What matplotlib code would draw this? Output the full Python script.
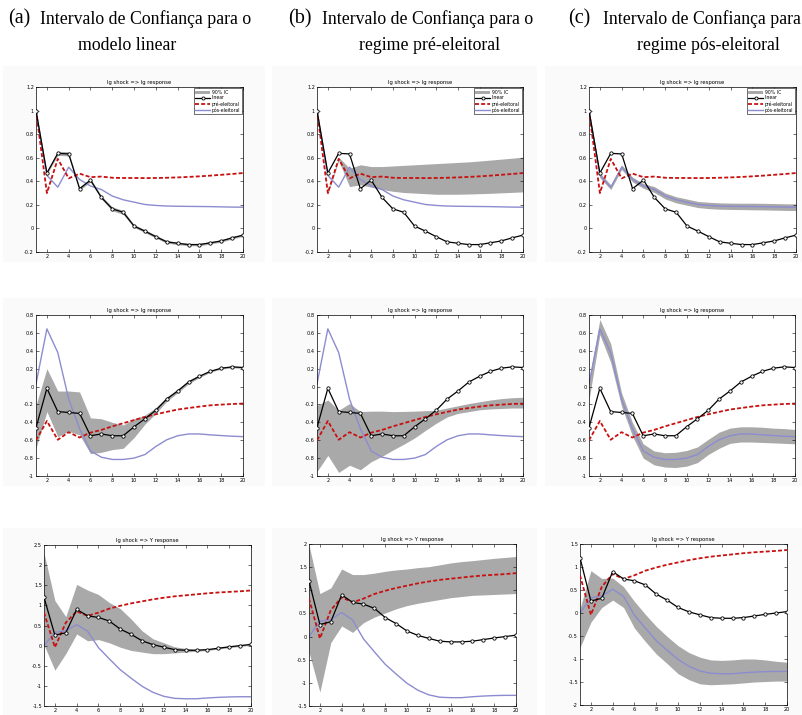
import matplotlib
matplotlib.use("Agg")
import matplotlib.pyplot as plt
from matplotlib.patches import Rectangle, Patch
from matplotlib.lines import Line2D

# ---------------- data ----------------
h = list(range(1, 21))

# Row 1: lg shock => lg response
r1_lin = [1.0, 0.47, 0.637, 0.632, 0.337, 0.41, 0.263, 0.166, 0.137, 0.02, -0.023, -0.07, -0.114, -0.126, -0.137, -0.137, -0.122, -0.106, -0.08, -0.057]
r1_pre = [1.0, 0.30, 0.59, 0.425, 0.465, 0.435, 0.44, 0.43, 0.428, 0.428, 0.427, 0.428, 0.43, 0.433, 0.437, 0.442, 0.448, 0.455, 0.462, 0.47]
r1_pos = [1.0, 0.45, 0.35, 0.52, 0.415, 0.36, 0.33, 0.275, 0.243, 0.223, 0.203, 0.195, 0.19, 0.188, 0.187, 0.186, 0.185, 0.183, 0.181, 0.18]
r1a_lo = [1.0, 0.46, 0.62, 0.615, 0.325, 0.395, 0.25, 0.15, 0.12, 0.008, -0.035, -0.082, -0.125, -0.137, -0.147, -0.147, -0.132, -0.116, -0.09, -0.067]
r1a_hi = [1.0, 0.48, 0.655, 0.65, 0.35, 0.425, 0.278, 0.182, 0.154, 0.032, -0.011, -0.058, -0.103, -0.115, -0.127, -0.127, -0.112, -0.096, -0.07, -0.047]
r1b_lo = [1.0, 0.29, 0.575, 0.355, 0.37, 0.35, 0.33, 0.315, 0.305, 0.30, 0.295, 0.29, 0.29, 0.29, 0.292, 0.295, 0.298, 0.302, 0.306, 0.31]
r1b_hi = [1.0, 0.31, 0.605, 0.51, 0.54, 0.525, 0.525, 0.53, 0.535, 0.54, 0.545, 0.55, 0.555, 0.56, 0.565, 0.572, 0.58, 0.588, 0.596, 0.605]
r1c_lo = [1.0, 0.43, 0.33, 0.50, 0.395, 0.34, 0.305, 0.25, 0.217, 0.197, 0.177, 0.168, 0.163, 0.161, 0.160, 0.158, 0.157, 0.155, 0.153, 0.152]
r1c_hi = [1.0, 0.47, 0.37, 0.54, 0.435, 0.38, 0.355, 0.30, 0.269, 0.249, 0.229, 0.222, 0.217, 0.215, 0.214, 0.214, 0.213, 0.211, 0.209, 0.208]

# Row 2: lg shock => lg response
r2_lin = [-0.46, -0.02, -0.28, -0.29, -0.30, -0.55, -0.53, -0.55, -0.55, -0.45, -0.36, -0.265, -0.14, -0.05, 0.05, 0.115, 0.17, 0.205, 0.22, 0.213]
r2_pre = [-0.60, -0.385, -0.595, -0.51, -0.57, -0.515, -0.485, -0.445, -0.41, -0.375, -0.34, -0.31, -0.283, -0.257, -0.24, -0.224, -0.21, -0.202, -0.195, -0.19]
r2_pos = [0.03, 0.645, 0.38, -0.14, -0.47, -0.72, -0.79, -0.815, -0.815, -0.80, -0.76, -0.67, -0.595, -0.55, -0.53, -0.53, -0.54, -0.548, -0.555, -0.56]
r2a_lo = [-0.69, -0.28, -0.56, -0.5, -0.54, -0.75, -0.735, -0.705, -0.69, -0.57, -0.42, -0.30, -0.165, -0.07, 0.03, 0.1, 0.16, 0.195, 0.21, 0.203]
r2a_hi = [-0.21, 0.2, -0.05, -0.05, -0.06, -0.35, -0.36, -0.40, -0.43, -0.36, -0.32, -0.235, -0.115, -0.03, 0.07, 0.13, 0.18, 0.215, 0.23, 0.223]
r2b_lo = [-0.95, -0.77, -0.96, -0.88, -0.93, -0.84, -0.78, -0.71, -0.645, -0.575, -0.49, -0.41, -0.34, -0.30, -0.28, -0.26, -0.25, -0.245, -0.24, -0.24]
r2b_hi = [-0.21, -0.15, -0.265, -0.19, -0.28, -0.275, -0.275, -0.28, -0.278, -0.275, -0.27, -0.265, -0.24, -0.215, -0.19, -0.17, -0.15, -0.135, -0.125, -0.12]
r2c_lo = [-0.15, 0.58, 0.27, -0.22, -0.55, -0.8, -0.875, -0.9, -0.905, -0.89, -0.85, -0.76, -0.69, -0.635, -0.62, -0.62, -0.625, -0.63, -0.635, -0.64]
r2c_hi = [0.07, 0.75, 0.48, -0.07, -0.4, -0.64, -0.72, -0.74, -0.735, -0.715, -0.675, -0.59, -0.51, -0.465, -0.45, -0.45, -0.455, -0.465, -0.47, -0.48]

# Row 3: lg shock => Y response
r3_lin = [1.2, 0.26, 0.32, 0.9, 0.74, 0.7, 0.61, 0.41, 0.28, 0.12, 0.025, -0.04, -0.1, -0.115, -0.115, -0.1, -0.065, -0.03, 0.0, 0.03]
r3_pre = [0.82, -0.04, 0.57, 0.85, 0.74, 0.82, 0.92, 0.99, 1.05, 1.1, 1.15, 1.19, 1.225, 1.25, 1.275, 1.3, 1.32, 1.335, 1.35, 1.37]
r3_pos = [0.0, 0.33, 0.37, 0.52, 0.36, -0.05, -0.33, -0.6, -0.81, -1.01, -1.16, -1.26, -1.31, -1.32, -1.32, -1.30, -1.285, -1.275, -1.27, -1.27]
r3a_lo = [0.02, -0.61, -0.2, 0.29, 0.12, 0.15, 0.07, -0.04, -0.12, -0.16, -0.2, -0.2, -0.18, -0.16, -0.14, -0.12, -0.085, -0.05, -0.02, 0.01]
r3a_hi = [2.3, 1.12, 0.72, 1.52, 1.38, 1.27, 1.07, 0.92, 0.66, 0.37, 0.17, 0.07, -0.03, -0.07, -0.09, -0.08, -0.045, -0.01, 0.02, 0.05]
r3b_lo = [-0.34, -1.2, -0.13, 0.23, 0.09, 0.3, 0.42, 0.51, 0.6, 0.67, 0.72, 0.76, 0.8, 0.84, 0.865, 0.89, 0.9, 0.91, 0.92, 0.93]
r3b_hi = [1.98, 0.93, 1.05, 1.46, 1.34, 1.34, 1.37, 1.41, 1.44, 1.46, 1.49, 1.51, 1.55, 1.59, 1.62, 1.64, 1.665, 1.69, 1.71, 1.73]
r3c_lo = [-0.75, -0.2, 0.12, 0.28, 0.12, -0.33, -0.62, -0.89, -1.1, -1.32, -1.45, -1.54, -1.56, -1.55, -1.54, -1.52, -1.5, -1.49, -1.48, -1.48]
r3c_hi = [0.1, 0.92, 0.75, 0.76, 0.57, 0.25, -0.03, -0.29, -0.51, -0.71, -0.86, -0.96, -1.02, -1.03, -1.02, -1.0, -1.0, -1.02, -1.05, -1.07]

titles_row = ["lg shock => lg response", "lg shock => lg response", "lg shock => Y response"]
legend_labels = ["90% IC", "linear", "pré-eleitoral", "pós-eleitoral"]
col_tag = ["(a)", "(b)", "(c)"]
col_line1 = ["Intervalo de Confiança para o", "Intervalo de Confiança para o", "Intervalo de Confiança para"]
col_line2 = ["modelo linear", "regime pré-eleitoral", "regime pós-eleitoral"]

row1_yticks = [-0.2, 0, 0.2, 0.4, 0.6, 0.8, 1, 1.2]
row2_yticks = [-1, -0.8, -0.6, -0.4, -0.2, 0, 0.2, 0.4, 0.6, 0.8]
row3_yticks = [[-1.5, -1, -0.5, 0, 0.5, 1, 1.5, 2, 2.5],
               [-1.5, -1, -0.5, 0, 0.5, 1, 1.5, 2],
               [-2, -1.5, -1, -0.5, 0, 0.5, 1, 1.5]]
xticks = [2, 4, 6, 8, 10, 12, 14, 16, 18, 20]

# ---------------- styling ----------------
W, H = 803, 715
C_LIN = "black"
C_PRE = "#c81010"
C_POS = "#8c8cd0"
C_CI = "#a9a9a9"

fig = plt.figure(figsize=(W / 100, H / 100), dpi=100)
fig.patch.set_facecolor("white")

# faint panel backgrounds (matlab figure canvas)
bg_boxes = [(3, 66, 262, 196), (272, 66, 265, 196), (545, 66, 258, 196),
            (3, 298, 262, 188), (272, 298, 265, 188), (545, 298, 258, 188),
            (3, 528, 262, 187), (272, 528, 265, 187), (545, 528, 258, 187)]
for (x0, y0, w, hh) in bg_boxes:
    fig.patches.append(Rectangle((x0 / W, 1 - (y0 + hh) / H), w / W, hh / H,
                                 transform=fig.transFigure, facecolor="#fafafa",
                                 edgecolor="none", zorder=-10))

def add_ax(left, right, top, bottom):
    return fig.add_axes([left / W, 1 - bottom / H, (right - left) / W, (bottom - top) / H])

boxes = [
    [(36, 243, 87, 252), (317, 523, 87, 252), (589, 796, 87, 252)],
    [(36, 243, 315, 476), (317, 523, 315, 476), (589, 795, 315, 476)],
    [(44, 251, 545, 706), (309, 516, 544, 706), (580, 787, 544, 705)],
]

rows = [
    (r1_lin, r1_pre, r1_pos, [(r1a_lo, r1a_hi), (r1b_lo, r1b_hi), (r1c_lo, r1c_hi)]),
    (r2_lin, r2_pre, r2_pos, [(r2a_lo, r2a_hi), (r2b_lo, r2b_hi), (r2c_lo, r2c_hi)]),
    (r3_lin, r3_pre, r3_pos, [(r3a_lo, r3a_hi), (r3b_lo, r3b_hi), (r3c_lo, r3c_hi)]),
]

for ri in range(3):
    lin, pre, pos, cis = rows[ri]
    for ci in range(3):
        ax = add_ax(*boxes[ri][ci])
        lo, hi = cis[ci]
        ax.fill_between(h, lo, hi, color=C_CI, linewidth=0, zorder=1)
        ax.plot(h, pos, color=C_POS, lw=1.0, zorder=2)
        ax.plot(h, pre, color=C_PRE, lw=1.3, ls=(0, (2.2, 1.2)), zorder=3)
        ax.plot(h, lin, color=C_LIN, lw=0.9, marker="o", ms=2.4, mfc="white",
                mec="black", mew=0.6, zorder=4)
        ax.set_xlim(1, 20)
        ax.set_xticks(xticks)
        if ri == 0:
            yt = row1_yticks
        elif ri == 1:
            yt = row2_yticks
        else:
            yt = row3_yticks[ci]
        ax.set_ylim(yt[0], yt[-1])
        ax.set_yticks(yt)
        ax.set_yticklabels(["%g" % v for v in yt])
        ax.tick_params(direction="in", length=2, width=0.4, labelsize=3.6,
                       top=True, right=True, pad=1.5)
        for s in ax.spines.values():
            s.set_linewidth(0.5)
        ax.set_title(titles_row[ri], fontsize=3.8, pad=2)
        if ri == 0:
            handles = [Patch(facecolor=C_CI, edgecolor="none"),
                       Line2D([], [], color=C_LIN, lw=0.9, marker="o", ms=2.2, mfc="white", mew=0.6),
                       Line2D([], [], color=C_PRE, lw=1.3, ls=(0, (2.2, 1.2))),
                       Line2D([], [], color=C_POS, lw=1.0)]
            leg = ax.legend(handles, legend_labels, loc="upper right", fontsize=3.3,
                            fancybox=False, framealpha=1, edgecolor="black",
                            handlelength=3.2, handleheight=0.7, borderpad=0.3,
                            labelspacing=0.15, handletextpad=0.4,
                            borderaxespad=0.3)
            leg.get_frame().set_linewidth(0.4)

# column headings
serif = ["Liberation Serif", "DejaVu Serif"]
tag_x = [8, 288, 568]
line1_x = [40, 322, 603]
line2_cx = [127, 430, 708]
for i in range(3):
    fig.text(tag_x[i] / W, 1 - 19 / H, col_tag[i], fontsize=14.5, family=serif,
             ha="left", va="center")
    fig.text(line1_x[i] / W, 1 - 19 / H, col_line1[i], fontsize=12.8, family=serif,
             ha="left", va="center")
    fig.text(line2_cx[i] / W, 1 - 46 / H, col_line2[i], fontsize=12.8, family=serif,
             ha="center", va="center")

fig.savefig("out.png", dpi=100)
